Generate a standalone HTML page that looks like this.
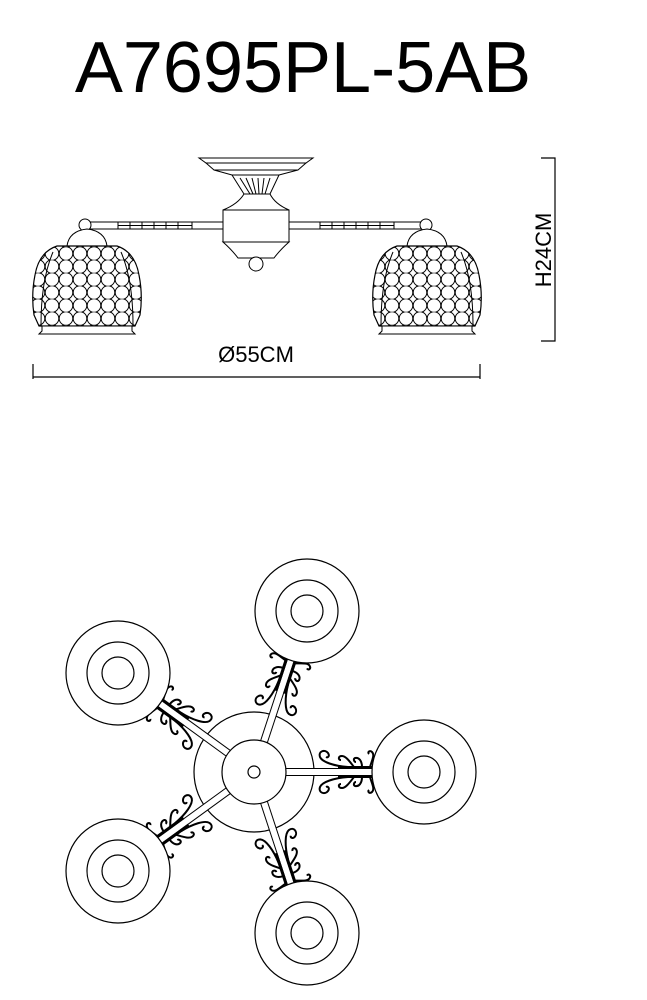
<!DOCTYPE html>
<html><head><meta charset="utf-8"><style>
html,body{margin:0;padding:0;background:#fff;}
svg{display:block;}
</style></head><body>
<svg width="647" height="1000" viewBox="0 0 647 1000" xmlns="http://www.w3.org/2000/svg">
<defs>
<pattern id="bub" x="0" y="0" width="14" height="13" patternUnits="userSpaceOnUse">
<rect width="14" height="13" fill="#fff"/>
<circle cx="7" cy="6.5" r="6.8" fill="none" stroke="#000" stroke-width="1"/>
</pattern>
<g id="shade">
<path d="M-20,246 Q-18,231 0,229 Q18,231 20,246 Z" fill="#fff" stroke="#000" stroke-width="1"/>
<path d="M-30,246 L30,246 Q48,252 52,275 Q56,295 53,315 L48,326 L-48,326 L-53,315 Q-56,295 -52,275 Q-48,252 -30,246 Z" fill="url(#bub)" stroke="#000" stroke-width="1.2"/>
<path d="M-34,252 Q-46,280 -46,325 M34,252 Q46,280 46,325" fill="none" stroke="#000" stroke-width="1"/>
<path d="M-45,326 L45,326 L45,331 L48,334 L-48,334 L-45,331 Z" fill="#fff" stroke="#000" stroke-width="1"/>
</g>
<g id="arm">
<rect x="30" y="-3.5" width="100" height="7" fill="#fff" stroke="#000" stroke-width="1"/>
<g fill="none" stroke="#000" stroke-width="2">
<g id="half">
<path d="M84,-4.5 L120,-4.5" stroke-width="3"/>
<path d="M94,-5 C80,-6 68,-10 66,-15 C64,-21 71,-23 74,-19 C76,-16 74,-14 72,-15"/>
<path d="M100,-5 C96,-10 92,-16 88,-16 C84,-16 84,-12 87,-12"/>
<path d="M108,-5 C108,-11 105,-15 101,-14 C99,-13 100,-10 102,-10"/>
<path d="M116,-5 C118,-12 121,-17 118,-20 C116,-22 113,-20 115,-18"/>
</g>
<use href="#half" transform="scale(1,-1)"/>
</g>
</g>
<g id="top">
<circle r="52" fill="#fff" stroke="#000" stroke-width="1.2"/>
<circle r="31" fill="none" stroke="#000" stroke-width="1.2"/>
<circle r="16" fill="none" stroke="#000" stroke-width="1.2"/>
</g>
</defs>

<text x="303" y="92" font-family="Liberation Sans, sans-serif" font-size="72" text-anchor="middle" fill="#000">A7695PL-5AB</text>

<!-- side view -->
<g stroke="#000" stroke-width="1" fill="#fff">
<path d="M199,158 L313,158 L306,163 L206,163 Z"/>
<path d="M206,163 L306,163 L298,170 L214,170 Z"/>
<path d="M214,170 L298,170 L279,175 L232,175 Z"/>
<path d="M232,175 L279,175 L270,194 L244,194 Z"/>
<path d="M240,178 L250,194 M246,178 L253,194 M252,178 L256,194 M258,178 L259,194 M264,178 L262,194 M270,178 L265,194" fill="none"/>
<path d="M244,194 L270,194 Q275,204 289,210 L223,210 Q238,204 244,194 Z"/>
<rect x="223" y="210" width="66" height="32"/>
<path d="M223,242 L289,242 Q280,250 274,258 L238,258 Q232,250 223,242 Z"/>
<circle cx="256" cy="264" r="7"/>
<rect x="90" y="222" width="133" height="7"/>
<rect x="289" y="222" width="133" height="7"/>
<path d="M118,222 V229 M130,222 V229 M142,222 V229 M154,222 V229 M166,222 V229 M178,222 V229 M192,222 V229 M320,222 V229 M332,222 V229 M344,222 V229 M356,222 V229 M368,222 V229 M380,222 V229 M394,222 V229" fill="none"/>
<path d="M118,225.5 H192 M320,225.5 H394" fill="none"/>
<circle cx="85" cy="225" r="6"/>
<circle cx="426" cy="225" r="6"/>
</g>
<use href="#shade" transform="translate(87,0)"/>
<use href="#shade" transform="translate(427,0)"/>

<g stroke="#000" stroke-width="1.2" fill="none">
<path d="M33,364 V379 M33,377 H480 M480,364 V379"/>
<path d="M541,158 H555 V341 H541"/>
</g>
<text x="256" y="362" font-family="Liberation Sans, sans-serif" font-size="22" text-anchor="middle">Ø55CM</text>
<text transform="translate(551,250) rotate(-90)" font-family="Liberation Sans, sans-serif" font-size="22" text-anchor="middle">H24CM</text>

<!-- top view -->
<circle cx="254" cy="772" r="60" fill="#fff" stroke="#000" stroke-width="1.2"/>
<g transform="translate(254,772)">
<use href="#arm" transform="rotate(0)"/>
<use href="#arm" transform="rotate(-71.8)"/>
<use href="#arm" transform="rotate(-144)"/>
<use href="#arm" transform="rotate(144)"/>
<use href="#arm" transform="rotate(71.8)"/>
</g>
<circle cx="254" cy="772" r="32" fill="#fff" stroke="#000" stroke-width="1.2"/>
<circle cx="254" cy="772" r="6" fill="#fff" stroke="#000" stroke-width="1.2"/>
<use href="#top" transform="translate(307,611)"/>
<use href="#top" transform="translate(118,673)"/>
<use href="#top" transform="translate(424,772)"/>
<use href="#top" transform="translate(118,871)"/>
<use href="#top" transform="translate(307,933)"/>
</svg>
</body></html>
